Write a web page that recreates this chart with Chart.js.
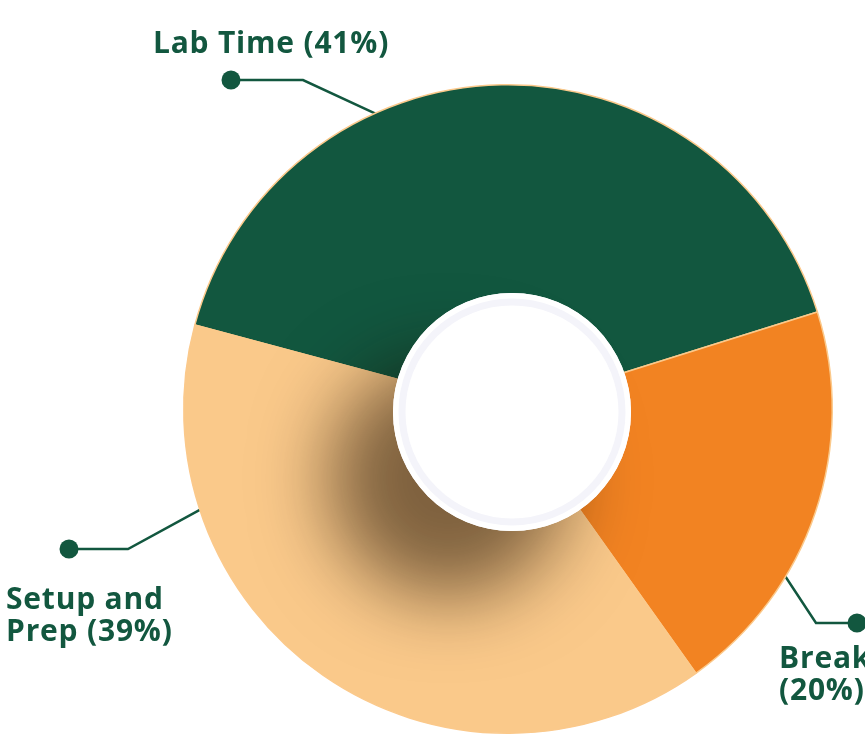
<!DOCTYPE html>
<html>
<head>
<meta charset="utf-8">
<script src="https://cdn.jsdelivr.net/npm/chart.js@4.4.1/dist/chart.umd.min.js"></script>
<style>
  html, body { margin: 0; padding: 0; background: #ffffff; }
  #wrap { width: 865px; height: 736px; position: relative; overflow: hidden; }
</style>
</head>
<body>
<div id="wrap"><canvas id="pie" width="865" height="736"></canvas></div>
<script>
// --- data ---
const categories = ['Lab Time', 'Break', 'Setup and Prep'];
const shares = [41, 20, 39];
const sliceColors = ['#12573f', '#f28322', '#fac98a'];

// --- label layout (anchor angle on the rim, elbow, dot, text) ---
const labelLines = [
    ['Lab Time (41%)'],
    ['Break', '(20%)'],
    ['Setup and', 'Prep (39%)']
];
const labelLayout = [
    { angle: -113.6, elbow: [303, 80], dot: [231, 80], text: [271, 53], align: 'center' },
    { angle: 30.8, elbow: [816, 623], dot: [857, 623], text: [779, 668], align: 'left' },
    { angle: 162, elbow: [128, 549], dot: [69, 549], text: [6, 609], align: 'left' }
];

const GREEN = '#12573f';

const decorPlugin = {
    id: 'decor',
    beforeDatasetsDraw(chart) {
        const ctx = chart.ctx;
        const arc = chart.getDatasetMeta(0).data[0];
        const cx = arc.x, cy = arc.y, r = arc.outerRadius;
        ctx.save();
        ctx.strokeStyle = GREEN;
        ctx.lineWidth = 2.5;
        labelLayout.forEach(function (l) {
            const a = l.angle * Math.PI / 180;
            ctx.beginPath();
            ctx.moveTo(cx + Math.cos(a) * (r - 4), cy + Math.sin(a) * (r - 4));
            ctx.lineTo(l.elbow[0], l.elbow[1]);
            ctx.lineTo(l.dot[0], l.dot[1]);
            ctx.stroke();
        });
        ctx.restore();
    },
    afterDatasetsDraw(chart) {
        const ctx = chart.ctx;
        const arc = chart.getDatasetMeta(0).data[0];
        const cx = arc.x, cy = arc.y, r = arc.outerRadius;
        const hx = cx + 4, hy = cy + 3, hr = 119;

        // soft drop shadow of the hub, kept inside the ring
        ctx.save();
        ctx.beginPath();
        ctx.arc(cx, cy, r, 0, Math.PI * 2);
        ctx.clip();
        ctx.shadowColor = 'rgba(25,12,0,0.55)';
        ctx.shadowBlur = 75;
        ctx.shadowOffsetX = -64;
        ctx.shadowOffsetY = 66;
        ctx.fillStyle = '#ffffff';
        ctx.beginPath();
        ctx.arc(hx, hy, hr, 0, Math.PI * 2);
        ctx.fill();
        ctx.restore();

        // hub
        ctx.save();
        ctx.fillStyle = '#ffffff';
        ctx.beginPath();
        ctx.arc(hx, hy, hr, 0, Math.PI * 2);
        ctx.fill();
        ctx.strokeStyle = '#f4f4fa';
        ctx.lineWidth = 7;
        ctx.beginPath();
        ctx.arc(hx, hy, 110, 0, Math.PI * 2);
        ctx.stroke();
        ctx.restore();
    },
    afterDraw(chart) {
        const ctx = chart.ctx;
        ctx.save();
        ctx.fillStyle = GREEN;
        labelLayout.forEach(function (l, i) {
            ctx.beginPath();
            ctx.arc(l.dot[0], l.dot[1], 9.5, 0, Math.PI * 2);
            ctx.fill();
            ctx.font = 'bold 30px "Open Sans", "Noto Sans", sans-serif';
            ctx.letterSpacing = '0.8px';
            ctx.textAlign = l.align;
            ctx.textBaseline = 'alphabetic';
            labelLines[i].forEach(function (line, j) {
                ctx.fillText(line, l.text[0], l.text[1] + j * 32);
            });
        });
        ctx.restore();
    }
};

new Chart(document.getElementById('pie').getContext('2d'), {
    type: 'doughnut',
    data: {
        labels: categories,
        datasets: [{
            data: shares,
            backgroundColor: sliceColors,
            borderColor: '#fbc98b',
            borderWidth: 1.5,
            hoverOffset: 0
        }]
    },
    options: {
        responsive: false,
        animation: false,
        cutout: '25%',
        rotation: -75,
        layout: { padding: { left: 183, right: 32, top: 84, bottom: 2 } },
        plugins: {
            legend: { display: false },
            tooltip: { enabled: false }
        }
    },
    plugins: [decorPlugin]
});
</script>
</body>
</html>
